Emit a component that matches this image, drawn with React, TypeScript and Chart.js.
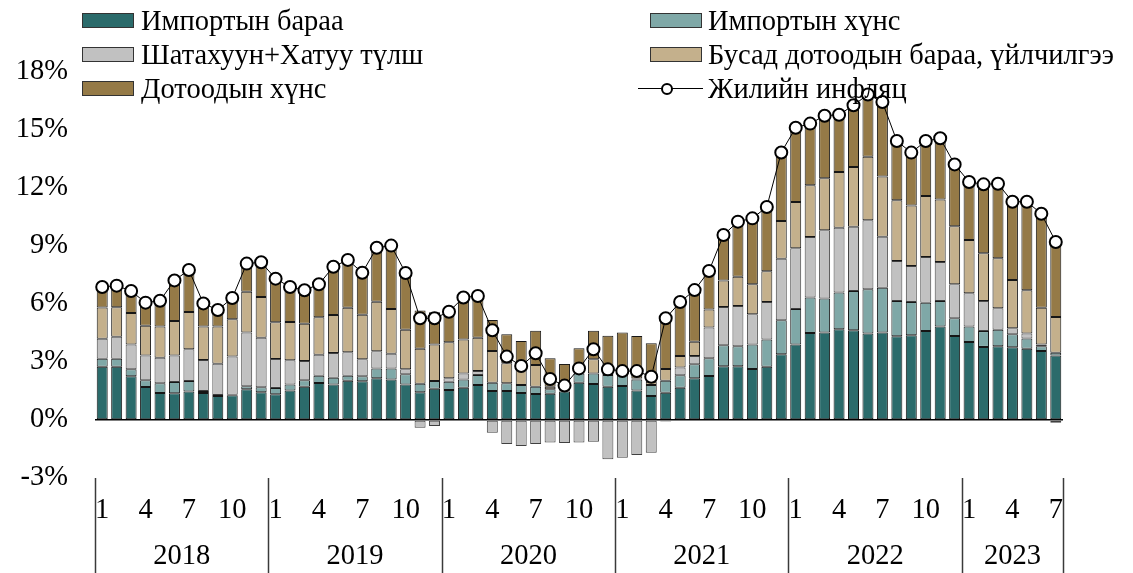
import React, { useEffect, useRef } from "react";
import { Chart, registerables } from "chart.js";

Chart.register(...registerables);

// Categories: year-month
const categories: string[] = [
  "2018-1","2018-2","2018-3","2018-4","2018-5","2018-6","2018-7","2018-8","2018-9","2018-10","2018-11","2018-12",
  "2019-1","2019-2","2019-3","2019-4","2019-5","2019-6","2019-7","2019-8","2019-9","2019-10","2019-11","2019-12",
  "2020-1","2020-2","2020-3","2020-4","2020-5","2020-6","2020-7","2020-8","2020-9","2020-10","2020-11","2020-12",
  "2021-1","2021-2","2021-3","2021-4","2021-5","2021-6","2021-7","2021-8","2021-9","2021-10","2021-11","2021-12",
  "2022-1","2022-2","2022-3","2022-4","2022-5","2022-6","2022-7","2022-8","2022-9","2022-10","2022-11","2022-12",
  "2023-1","2023-2","2023-3","2023-4","2023-5","2023-6","2023-7",
];

const shownMonths: string[] = ["1", "4", "7", "10"];

// Импортын бараа
const importGoods: number[] = [
  2.76, 2.76, 2.26, 1.71, 1.40, 1.38, 1.47, 1.40, 1.24, 1.28, 1.59, 1.43,
  1.33, 1.53, 1.72, 1.91, 1.84, 2.03, 2.00, 2.16, 2.09, 1.84, 1.43, 1.62,
  1.55, 1.67, 1.81, 1.50, 1.50, 1.40, 1.34, 1.36, 1.47, 1.93, 1.86, 1.72,
  1.76, 1.52, 1.24, 1.41, 1.67, 2.16, 2.28, 2.78, 2.78, 2.64, 2.76, 3.40,
  3.91, 4.50, 4.53, 4.69, 4.64, 4.48, 4.53, 4.33, 4.38, 4.60, 4.83, 4.34,
  4.03, 3.78, 3.81, 3.76, 3.69, 3.57, 3.34,
];

// Импортын хүнс
const importFood: number[] = [
  0.41, 0.41, 0.36, 0.34, 0.50, 0.59, 0.55, 0.10, 0.05, 0.03, 0.15, 0.26,
  0.33, 0.30, 0.33, 0.38, 0.35, 0.26, 0.26, 0.51, 0.58, 0.52, 0.45, 0.40,
  0.43, 0.42, 0.52, 0.43, 0.40, 0.41, 0.38, 0.23, 0.05, 0.48, 0.55, 0.61,
  0.57, 0.58, 0.57, 0.62, 0.64, 0.72, 0.91, 1.08, 1.03, 1.27, 1.41, 1.76,
  1.83, 1.83, 1.76, 1.91, 2.03, 2.28, 2.31, 1.83, 1.72, 1.47, 1.33, 0.92,
  0.81, 0.82, 0.86, 0.67, 0.53, 0.24, 0.14,
];

// Шатахуун+Хатуу түлш
const fuel: number[] = [
  1.03, 1.14, 1.29, 1.29, 1.32, 1.36, 1.64, 1.60, 1.62, 1.98, 2.78, 2.57,
  1.50, 1.26, 1.00, 1.09, 1.28, 1.21, 0.88, 0.88, 0.76, 0.26, -0.40, -0.31,
  0.18, 0.31, 0.20, -0.66, -1.24, -1.34, -1.24, -1.16, -1.19, -1.16, -1.12, -2.03,
  -1.95, -1.81, -1.69, -0.08, 0.40, 0.43, 1.59, 1.98, 2.09, 1.56, 1.93, 3.18,
  3.14, 3.14, 3.52, 3.35, 3.33, 3.57, 2.64, 2.06, 1.87, 2.36, 2.01, 1.76,
  1.71, 1.56, 1.11, 0.31, 0.26, 0.10, -0.14,
];

// Бусад дотоодын бараа, үйлчилгээ
const otherDomestic: number[] = [
  1.62, 1.52, 1.62, 1.54, 1.62, 1.79, 1.93, 1.74, 1.93, 1.92, 2.12, 2.10,
  1.89, 1.98, 1.93, 1.93, 1.96, 2.31, 2.31, 2.57, 2.31, 2.05, 1.81, 1.89,
  1.86, 1.77, 1.73, 1.64, 1.03, 0.86, 1.12, 0.13, 0.08, 0.00, 0.73, 0.05,
  0.05, 0.05, 0.17, 0.61, 0.60, 0.74, 0.93, 1.38, 1.51, 1.55, 1.59, 1.95,
  2.40, 2.67, 2.69, 2.88, 3.09, 3.29, 3.11, 3.14, 3.13, 3.16, 3.24, 3.00,
  2.76, 2.46, 2.58, 2.50, 2.23, 1.90, 1.85,
];

// Дотоодын хүнс
const domesticFood: number[] = [
  1.05, 1.12, 1.14, 1.19, 1.33, 2.10, 2.17, 1.19, 0.85, 1.10, 1.45, 1.80,
  2.26, 1.81, 1.73, 1.71, 2.50, 2.47, 2.17, 2.79, 3.28, 2.93, 1.97, 1.66,
  1.58, 2.17, 2.15, 1.60, 1.50, 1.42, 1.78, 1.47, 1.30, 1.30, 1.48, 1.98,
  2.15, 2.19, 1.99, 2.62, 2.79, 2.67, 2.00, 2.35, 2.85, 3.41, 3.33, 3.55,
  3.84, 3.19, 3.24, 2.96, 3.19, 3.22, 3.86, 3.07, 2.73, 2.84, 3.16, 3.20,
  3.00, 3.57, 3.86, 4.05, 4.58, 4.86, 4.02,
];

// Жилийн инфляц
const annualInflation: number[] = [
  6.88, 6.95, 6.67, 6.07, 6.17, 7.22, 7.76, 6.03, 5.69, 6.31, 8.09, 8.16,
  7.31, 6.88, 6.71, 7.02, 7.93, 8.28, 7.62, 8.91, 9.02, 7.60, 5.26, 5.26,
  5.60, 6.34, 6.41, 4.64, 3.28, 2.79, 3.45, 2.12, 1.78, 2.67, 3.66, 2.62,
  2.53, 2.53, 2.24, 5.26, 6.10, 6.72, 7.71, 9.57, 10.26, 10.43, 11.02, 13.84,
  15.12, 15.33, 15.74, 15.79, 16.28, 16.84, 16.45, 14.43, 13.83, 14.43, 14.57, 13.22,
  12.31, 12.19, 12.22, 11.29, 11.29, 10.67, 9.21,
];

const seriesNames: string[] = [
  "Импортын бараа",
  "Импортын хүнс",
  "Шатахуун+Хатуу түлш",
  "Бусад дотоодын бараа, үйлчилгээ",
  "Дотоодын хүнс",
  "Жилийн инфляц",
];

const seriesColors: string[] = ["#2B6B6B", "#7FA8A7", "#C1C1C1", "#C4B08C", "#957A47"];

const FONT = "'Liberation Serif', 'Times New Roman', Times, serif";
const FONT_SIZE = 28.5;

const yearAxisPlugin = {
  id: "yearAxis",
  afterDraw(chart: any) {
    const { ctx, chartArea, scales } = chart;
    const x = scales.x;
    const half = (x.getPixelForValue(1) - x.getPixelForValue(0)) / 2;
    const groups: { year: string; first: number; last: number }[] = [];
    categories.forEach((c, i) => {
      const yr = c.split("-")[0];
      const g = groups[groups.length - 1];
      if (!g || g.year !== yr) groups.push({ year: yr, first: i, last: i });
      else g.last = i;
    });
    ctx.save();
    ctx.strokeStyle = "#3a3a3a";
    ctx.lineWidth = 1.5;
    const top = chartArea.bottom;
    const bottom = chart.height;
    groups.forEach((g, gi) => {
      const l = x.getPixelForValue(g.first) - half;
      const r = x.getPixelForValue(g.last) + half;
      ctx.beginPath();
      ctx.moveTo(Math.round(l) + 0.5, top);
      ctx.lineTo(Math.round(l) + 0.5, bottom);
      ctx.stroke();
      if (gi === groups.length - 1) {
        ctx.beginPath();
        ctx.moveTo(Math.round(r) + 0.5, top);
        ctx.lineTo(Math.round(r) + 0.5, bottom);
        ctx.stroke();
      }
      ctx.fillStyle = "#000";
      ctx.font = `${FONT_SIZE}px ${FONT}`;
      ctx.textAlign = "center";
      ctx.textBaseline = "middle";
      ctx.fillText(g.year, (l + r) / 2, 557);
    });
    ctx.restore();
  },
};

export default function App() {
  const canvasRef = useRef<HTMLCanvasElement | null>(null);

  useEffect(() => {
    if (!canvasRef.current) return;
    const barCommon = {
      type: "bar" as const,
      borderWidth: 1,
      borderSkipped: false,
      barPercentage: 0.76,
      categoryPercentage: 1,
      stack: "s",
      order: 1,
    };
    const barSeries = [importGoods, importFood, fuel, otherDomestic, domesticFood];
    const chart = new Chart(canvasRef.current, {
      type: "bar",
      data: {
        labels: categories,
        datasets: [
          {
            type: "line" as const,
            label: seriesNames[5],
            data: annualInflation,
            borderColor: "#000",
            borderWidth: 1,
            pointRadius: 6,
            pointBorderWidth: 2,
            pointBackgroundColor: "#fff",
            pointBorderColor: "#000",
            stack: "line",
            order: 0,
            tension: 0,
          } as any,
          ...barSeries.map((d, i) => ({
            ...barCommon,
            label: seriesNames[i],
            data: d,
            backgroundColor: seriesColors[i],
            borderColor: i === 2 ? "#404040" : "#161616",
          })),
        ],
      },
      options: {
        animation: false,
        responsive: false,
        layout: { padding: { left: 0, right: 70, top: 72, bottom: 0 } },
        plugins: { legend: { display: false }, tooltip: { enabled: false } },
        scales: {
          x: {
            stacked: true,
            grid: { display: false, drawTicks: false },
            border: { display: false },
            ticks: {
              autoSkip: false,
              maxRotation: 0,
              minRotation: 0,
              padding: 15,
              color: "#000",
              font: { family: FONT, size: FONT_SIZE },
              callback: (_v: any, i: number) => {
                const m = categories[i].split("-")[1];
                return shownMonths.includes(m) ? m : "";
              },
            },
            afterFit: (s: any) => {
              s.height = 95;
            },
          },
          y: {
            stacked: true,
            min: -3,
            max: 18,
            grid: {
              drawTicks: false,
              color: (c: any) => (c.tick && c.tick.value === 0 ? "#000" : "rgba(0,0,0,0)"),
              lineWidth: 1.5,
            },
            border: { display: false },
            ticks: {
              stepSize: 3,
              padding: 27,
              color: "#000",
              font: { family: FONT, size: FONT_SIZE },
              callback: (v: any) => `${v}%`,
            },
            afterFit: (s: any) => {
              s.width = 95;
            },
          },
        },
      },
      plugins: [yearAxisPlugin],
    });
    return () => chart.destroy();
  }, []);

  const rowCenters = [20.5, 54.5, 88.5];
  const legendText: React.CSSProperties = {
    position: "absolute",
    fontFamily: FONT,
    fontSize: FONT_SIZE,
    lineHeight: "32px",
    height: 32,
    color: "#000",
    whiteSpace: "nowrap",
  };
  const swatch = (left: number, cy: number, color: string): React.CSSProperties => ({
    position: "absolute",
    left,
    top: cy - 7.5,
    width: 52,
    height: 15,
    boxSizing: "border-box",
    background: color,
    border: "1.5px solid #333",
  });
  const items = [
    { col: 0, row: 0, s: 0 },
    { col: 1, row: 0, s: 1 },
    { col: 0, row: 1, s: 2 },
    { col: 1, row: 1, s: 3 },
    { col: 0, row: 2, s: 4 },
  ];

  return (
    <div style={{ position: "fixed", left: 0, top: 0, width: 1133, height: 573, background: "#fff" }}>
      <canvas ref={canvasRef} width={1133} height={573} style={{ position: "absolute", left: 0, top: 0 }} />
      {items.map((it) => {
        const sx = it.col === 0 ? 82 : 650;
        const tx = it.col === 0 ? 141 : 708;
        const cy = rowCenters[it.row];
        return (
          <React.Fragment key={it.s}>
            <div style={swatch(sx, cy, seriesColors[it.s])} />
            <div style={{ ...legendText, left: tx, top: cy - 16 }}>{seriesNames[it.s]}</div>
          </React.Fragment>
        );
      })}
      <div style={{ position: "absolute", left: 638, top: rowCenters[2] - 0.5, width: 65, height: 1, background: "#000" }} />
      <div
        style={{
          position: "absolute",
          left: 667 - 6,
          top: rowCenters[2] - 6,
          width: 12,
          height: 12,
          boxSizing: "border-box",
          borderRadius: "50%",
          border: "2px solid #000",
          background: "#fff",
        }}
      />
      <div style={{ ...legendText, left: 708, top: rowCenters[2] - 16 }}>{seriesNames[5]}</div>
    </div>
  );
}
